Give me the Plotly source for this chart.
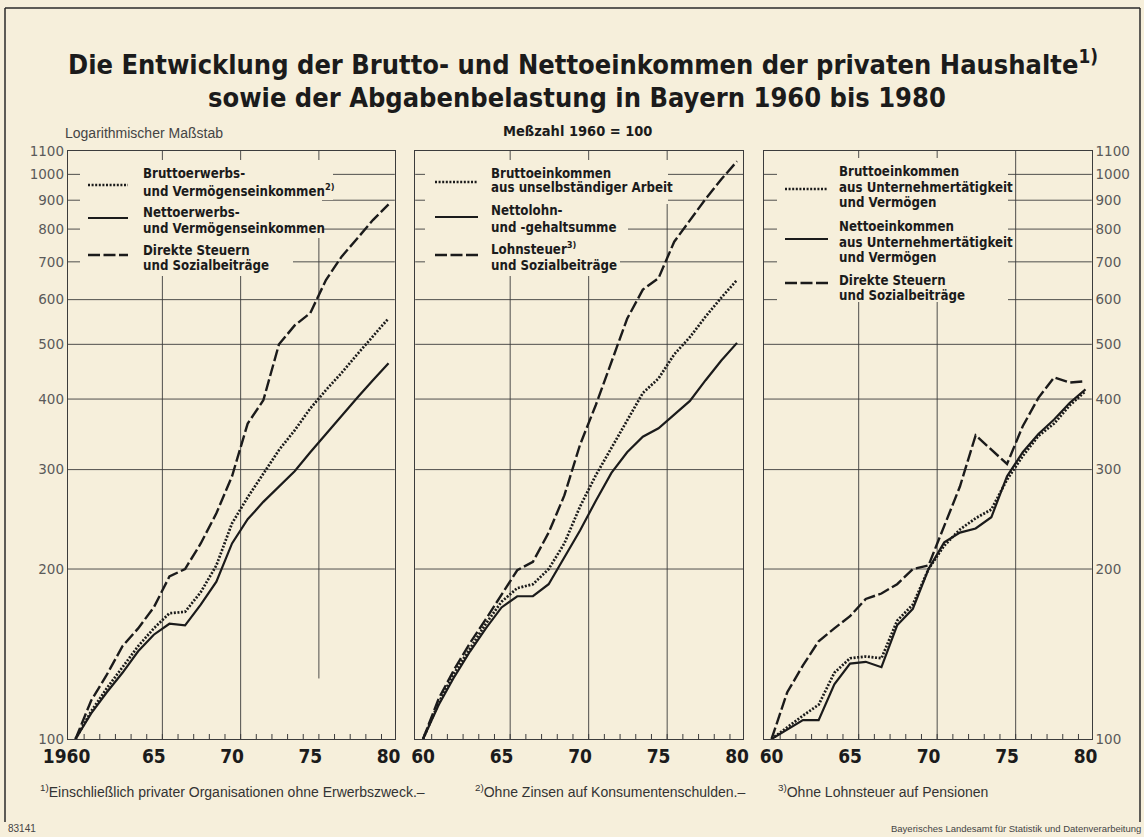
import math
import plotly.graph_objects as go

# ---------------- data (index 1960 = 100) ----------------
years = list(range(1960, 1981))

# Panel 1: Erwerbs- und Vermögenseinkommen
p1_brutto = [100, 112, 123, 134, 146, 157, 167, 168, 182, 203, 241, 268, 295, 325, 352, 385, 415, 445, 480, 517, 556]
p1_netto = [100, 111, 121, 131, 143, 153, 160, 159, 173, 190, 222, 245, 263, 280, 298, 322, 347, 373, 402, 432, 463]
p1_steuer = [100, 117, 130, 146, 157, 171, 194, 200, 222, 251, 292, 362, 398, 500, 540, 568, 650, 715, 770, 830, 885]

# Panel 2: Einkommen aus unselbständiger Arbeit
p2_brutto = [100, 116, 131, 145, 160, 175, 185, 188, 200, 222, 258, 293, 328, 365, 410, 435, 480, 515, 560, 605, 650]
p2_netto = [100, 115, 129, 143, 157, 171, 179, 179, 188, 210, 234, 264, 296, 322, 343, 355, 375, 397, 432, 468, 503]
p2_steuer = [100, 118, 133, 148, 163, 180, 199, 206, 232, 270, 332, 390, 465, 555, 625, 655, 760, 830, 905, 980, 1055]

# Panel 3: Einkommen aus Unternehmertätigkeit und Vermögen
p3_brutto = [100, 105, 110, 115, 131, 139, 140, 139, 162, 173, 200, 220, 235, 246, 255, 288, 317, 344, 362, 390, 413]
p3_netto = [100, 104, 108, 108, 125, 136, 137, 134, 159, 170, 200, 223, 232, 236, 247, 292, 322, 347, 368, 394, 416]
p3_steuer = [100, 121, 135, 149, 157, 165, 177, 181, 188, 200, 203, 238, 280, 345, 325, 307, 358, 402, 437, 428, 430]

x_tickvals = [1960, 1965, 1970, 1975, 1980]
x_ticktext_first = ["1960\u00a0\u00a0\u00a0", "65", "70", "75", "80"]
x_ticktext = ["60", "65", "70", "75", "80"]
y_tickvals = [100, 200, 300, 400, 500, 600, 700, 800, 900, 1000, 1100]
y_ticktext = [str(v) for v in y_tickvals]

legend1 = [["Bruttoerwerbs-", "und Vermögenseinkommen<sup>2)</sup>"],
           ["Nettoerwerbs-", "und Vermögenseinkommen"],
           ["Direkte Steuern", "und Sozialbeiträge"]]
legend2 = [["Bruttoeinkommen", "aus unselbständiger Arbeit"],
           ["Nettolohn-", "und -gehaltsumme"],
           ["Lohnsteuer<sup>3)</sup>", "und Sozialbeiträge"]]
legend3 = [["Bruttoeinkommen", "aus Unternehmertätigkeit", "und Vermögen"],
           ["Nettoeinkommen", "aus Unternehmertätigkeit", "und Vermögen"],
           ["Direkte Steuern", "und Sozialbeiträge"]]

# ---------------- styling ----------------
W, H = 1144, 837
BG = "#f6efdb"
INK = "#1b1b1b"
GRID = "#3c3c3c"
NARROW = "DejaVu Sans Condensed, Liberation Sans Narrow, Arial Narrow, sans-serif"
REG = "Liberation Sans, Arial, Helvetica, sans-serif"
WIDE = "DejaVu Sans, Verdana, sans-serif"

DOT = dict(color=INK, width=2.7, dash="2px,1.6px")
SOLID = dict(color=INK, width=2.2, dash="solid")
DASH = dict(color=INK, width=2.4, dash="12px,3.5px")
styles = [DOT, SOLID, DASH]


def px(x):
    return x / W


def py(y):
    return 1 - y / H


XR = [1959.5, 1980.4]
YR = [2, math.log10(1100)]
Y_TOP, Y_BOT = 151, 739
panels = [(67.7, 394.8), (415.2, 743.3), (763.7, 1091.8)]
series = [(p1_brutto, p1_netto, p1_steuer),
          (p2_brutto, p2_netto, p2_steuer),
          (p3_brutto, p3_netto, p3_steuer)]


def yfrac(v):
    return (math.log10(v) - 2) / math.log10(11)


fig = go.Figure()
shapes = []

for i, (trio, (x0, x1)) in enumerate(zip(series, panels)):
    n = "" if i == 0 else str(i + 1)
    for vals, st in zip(trio, styles):
        fig.add_trace(go.Scatter(x=years, y=vals, xaxis="x" + n, yaxis="y" + n,
                                 mode="lines", line=st, showlegend=False,
                                 hoverinfo="skip"))
    xa = dict(domain=[px(x0), px(x1)], range=XR, anchor="y" + n,
              tickmode="array", tickvals=x_tickvals,
              ticktext=x_ticktext_first if i == 0 else x_ticktext,
              tickfont=dict(family=NARROW, size=19, color=INK, weight="bold"),
              ticks="", showgrid=False, zeroline=False, automargin=False,
              showline=True, mirror=True, linecolor=GRID, linewidth=1)
    ya = dict(domain=[py(Y_BOT), py(Y_TOP)], type="log", range=YR,
              anchor="x" + n, tickmode="array", tickvals=y_tickvals,
              ticktext=y_ticktext, showgrid=False, zeroline=False,
              automargin=False,
              showline=True, mirror=True, linecolor=GRID, linewidth=1,
              ticks="", tickfont=dict(family=WIDE, size=13.5, color="#5a5a5a"),
              showticklabels=(i != 1), side="right" if i == 2 else "left")
    fig.layout["xaxis" + n] = xa
    fig.layout["yaxis" + n] = ya

    xd, yd = "x" + n + " domain", "y" + n + " domain"
    # horizontal grid lines
    for v in y_tickvals[1:-1]:
        shapes.append(dict(type="line", xref=xd, yref=yd, x0=0, x1=1,
                           y0=yfrac(v), y1=yfrac(v), layer="below",
                           line=dict(color=GRID, width=0.9)))
    # vertical grid lines (printed slightly right of the year positions)
    for g in [1965.55, 1970.55, 1975.55]:
        y0 = yfrac(128) if (i == 0 and g == 1975.55) else 0
        shapes.append(dict(type="line", xref="x" + n, yref=yd,
                           x0=g, x1=g, y0=y0, y1=1, layer="below",
                           line=dict(color=GRID, width=0.9)))
    # small year ticks on the bottom axis
    for yv in years[:-1]:
        shapes.append(dict(type="line", xref="x" + n, yref=yd,
                           x0=yv + 0.55, x1=yv + 0.55, y0=0, y1=5 / (Y_BOT - Y_TOP),
                           layer="below", line=dict(color=GRID, width=1)))

# background masks behind the legend texts (panel index, x0, x1, ytop, ybottom) in px
masks = [(0, 80, 333, 160, 200), (0, 80, 322, 200, 238), (0, 80, 293, 238, 276),
         (1, 425, 668, 160, 204), (1, 425, 628, 204, 238), (1, 425, 620, 238, 276),
         (2, 777, 1008, 158, 302)]
for (pi, a, b, c, d) in masks:
    n = "" if pi == 0 else str(pi + 1)
    x0, x1 = panels[pi]
    fx0, fx1 = (a - x0) / (x1 - x0), (b - x0) / (x1 - x0)
    fy0, fy1 = (Y_BOT - d) / (Y_BOT - Y_TOP), (Y_BOT - c) / (Y_BOT - Y_TOP)
    shapes.append(dict(type="rect", xref="x" + n + " domain", yref="y" + n + " domain",
                       x0=fx0, x1=fx1, y0=fy0, y1=fy1,
                       fillcolor=BG, line=dict(width=0), layer="below"))

annotations = []
legend_layout = [
    (legend1, (88, 128, 141), [185, 218, 255], [[174, 190], [212, 228], [250, 266]]),
    (legend2, (435, 478, 489), [182, 217, 255], [[173, 188], [211, 227], [248, 265]]),
    (legend3, (785, 828, 837), [189, 239, 283], [[172, 187, 202], [226, 242, 257], [280, 295]]),
]
for entries, (sx0, sx1, tx), sys_, tys in legend_layout:
    for entry, st, sy, ty in zip(entries, styles, sys_, tys):
        shapes.append(dict(type="line", xref="paper", yref="paper",
                           x0=px(sx0), x1=px(sx1), y0=py(sy), y1=py(sy),
                           layer="above",
                           line=dict(color=INK, width=st["width"], dash=st["dash"])))
        for line_txt, yy in zip(entry, ty):
            annotations.append(dict(text=line_txt, x=px(tx), y=py(yy),
                                    xref="paper", yref="paper",
                                    xanchor="left", yanchor="middle",
                                    showarrow=False,
                                    font=dict(family=NARROW, size=13.2, color=INK,
                                              weight="bold")))

# frame
for (a, b, c, d) in [(5, 1140, 8, 8), (5, 5, 8, 822), (1140, 1140, 8, 822)]:
    shapes.append(dict(type="line", xref="paper", yref="paper",
                       x0=px(a), x1=px(b), y0=py(c), y1=py(d), layer="above",
                       line=dict(color="#2a2a2a", width=1.5)))


def note(text, x, y, size, family, xanchor="left", color=INK, weight="normal"):
    annotations.append(dict(text=text, x=px(x), y=py(y), xref="paper", yref="paper",
                            xanchor=xanchor, yanchor="middle", showarrow=False,
                            font=dict(family=family, size=size, color=color,
                                      weight=weight)))


note("Die Entwicklung der Brutto- und Nettoeinkommen der privaten Haushalte<sup>1)</sup>",
     583, 62, 27, NARROW, xanchor="center", weight="bold")
note("sowie der Abgabenbelastung in Bayern 1960 bis 1980",
     577, 97, 27, NARROW, xanchor="center", weight="bold")
note("Logarithmischer Maßstab", 63, 133, 14, REG, color="#444444")
note("Meßzahl 1960 = 100", 577, 131, 14.5, NARROW, xanchor="center", weight="bold")
note("<sup>1)</sup>Einschließlich privater Organisationen ohne Erwerbszweck.–",
     38, 791, 14, REG, color="#333333")
note("<sup>2)</sup>Ohne Zinsen auf Konsumentenschulden.–", 473, 791, 14, REG,
     color="#333333")
note("<sup>3)</sup>Ohne Lohnsteuer auf Pensionen", 776, 791, 14, REG, color="#333333")
note("83141", 6, 828, 10, REG, color="#444444")
note("Bayerisches Landesamt für Statistik und Datenverarbeitung", 1143, 828, 9.5,
     REG, xanchor="right", color="#444444")

fig.update_layout(width=W, height=H, margin=dict(l=0, r=0, t=0, b=0, pad=0),
                  paper_bgcolor=BG, plot_bgcolor=BG, shapes=shapes,
                  annotations=annotations, showlegend=False)

fig.write_html("out.html",
               config={"displayModeBar": False},
               post_script="document.body.style.margin='0';"
                           "document.body.style.overflow='hidden';"
                           "document.body.style.background='" + BG + "';")
